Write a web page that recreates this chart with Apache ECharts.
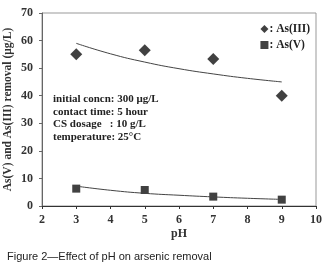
<!DOCTYPE html>
<html>
<head>
<meta charset="utf-8">
<script src="https://cdn.jsdelivr.net/npm/echarts@6/dist/echarts.min.js"></script>
<style>
  html, body { margin: 0; padding: 0; background: #fff; }
  #container { width: 324px; height: 269px; }
</style>
</head>
<body>
<div id="container"></div>
<script>
// measured points
var phPoints = [3, 5, 7, 9];
var as3Values = [55, 56.5, 53.3, 40];
var as5Values = [6.3, 5.8, 3.4, 2.3];
// fitted trend lines
var fitPh = [3, 4, 5, 6, 7, 8, 9];
var as3Fit = [59, 55.2, 52.2, 49.8, 47.9, 46.3, 45];
var as5Fit = [7.2, 5.7, 4.6, 3.9, 3.3, 2.8, 2.4];
var notes = ['initial concn: 300 μg/L', 'contact time: 5 hour', 'CS dosage   : 10 g/L', 'temperature: 25°C'];

function pairs(xs, ys) {
  return xs.map(function (x, i) { return [x, ys[i]]; });
}

var serif = "'Liberation Serif', 'Times New Roman', serif";
var chart = echarts.init(document.getElementById('container'));

var option = {
  backgroundColor: '#fff',
  animation: false,
  grid: {
    left: 42, top: 13, right: 8, bottom: 63,
    containLabel: false,
    outerBoundsMode: 'none',
    show: true, borderColor: '#999', borderWidth: 1
  },
  legend: {
    orient: 'vertical',
    right: 9, top: 18,
    itemWidth: 8, itemHeight: 8, itemGap: 4,
    data: ['As(III)', 'As(V)'],
    formatter: function (n) { return ': ' + n; },
    textStyle: { fontFamily: serif, fontWeight: 'bold', fontSize: 11.5, color: '#222', padding: [0, 0, 0, -4] }
  },
  xAxis: {
    type: 'value', min: 2, max: 10, interval: 1,
    name: 'pH', nameLocation: 'middle', nameGap: 22, nameMoveOverlap: false,
    nameTextStyle: { fontFamily: serif, fontWeight: 'bold', fontSize: 12, color: '#333' },
    axisLine: { lineStyle: { color: '#333' } },
    axisTick: { show: true, length: 3, lineStyle: { color: '#333' } },
    axisLabel: { fontFamily: serif, fontWeight: 'bold', fontSize: 12, color: '#333', margin: 8 },
    splitLine: { show: false }
  },
  yAxis: {
    type: 'value', min: 0, max: 70, interval: 10,
    name: 'As(V) and As(III) removal (μg/L)', nameLocation: 'middle', nameGap: 28, nameMoveOverlap: false,
    nameTextStyle: { fontFamily: serif, fontWeight: 'bold', fontSize: 11.5, color: '#333' },
    axisLine: { lineStyle: { color: '#666' } },
    axisTick: { show: true, length: 3, lineStyle: { color: '#666' } },
    axisLabel: { fontFamily: serif, fontWeight: 'bold', fontSize: 12, color: '#333', margin: 9 },
    splitLine: { show: false }
  },
  graphic: notes.map(function (t, i) {
    return {
      type: 'text', left: 53, top: 94 + i * 12.5,
      style: { text: t, font: 'bold 11px ' + serif, fill: '#222' }
    };
  }).concat([{
    type: 'text', left: 7, top: 251,
    style: { text: 'Figure 2\u2014Effect of pH on arsenic removal', font: '11px "Liberation Sans", Arial, sans-serif', fill: '#222' }
  }]),
  series: [
    {
      name: 'As(III)', type: 'scatter', symbol: 'diamond', symbolSize: 12,
      itemStyle: { color: '#111' }, data: pairs(phPoints, as3Values)
    },
    {
      name: 'As(V)', type: 'scatter', symbol: 'rect', symbolSize: 8,
      itemStyle: { color: '#111' }, data: pairs(phPoints, as5Values)
    },
    {
      name: 'fit3', type: 'line', smooth: true, symbol: 'none',
      lineStyle: { color: '#444', width: 1 }, data: pairs(fitPh, as3Fit)
    },
    {
      name: 'fit5', type: 'line', smooth: true, symbol: 'none',
      lineStyle: { color: '#444', width: 1 }, data: pairs(fitPh, as5Fit)
    }
  ]
};
chart.setOption(option);
</script>
</body>
</html>
